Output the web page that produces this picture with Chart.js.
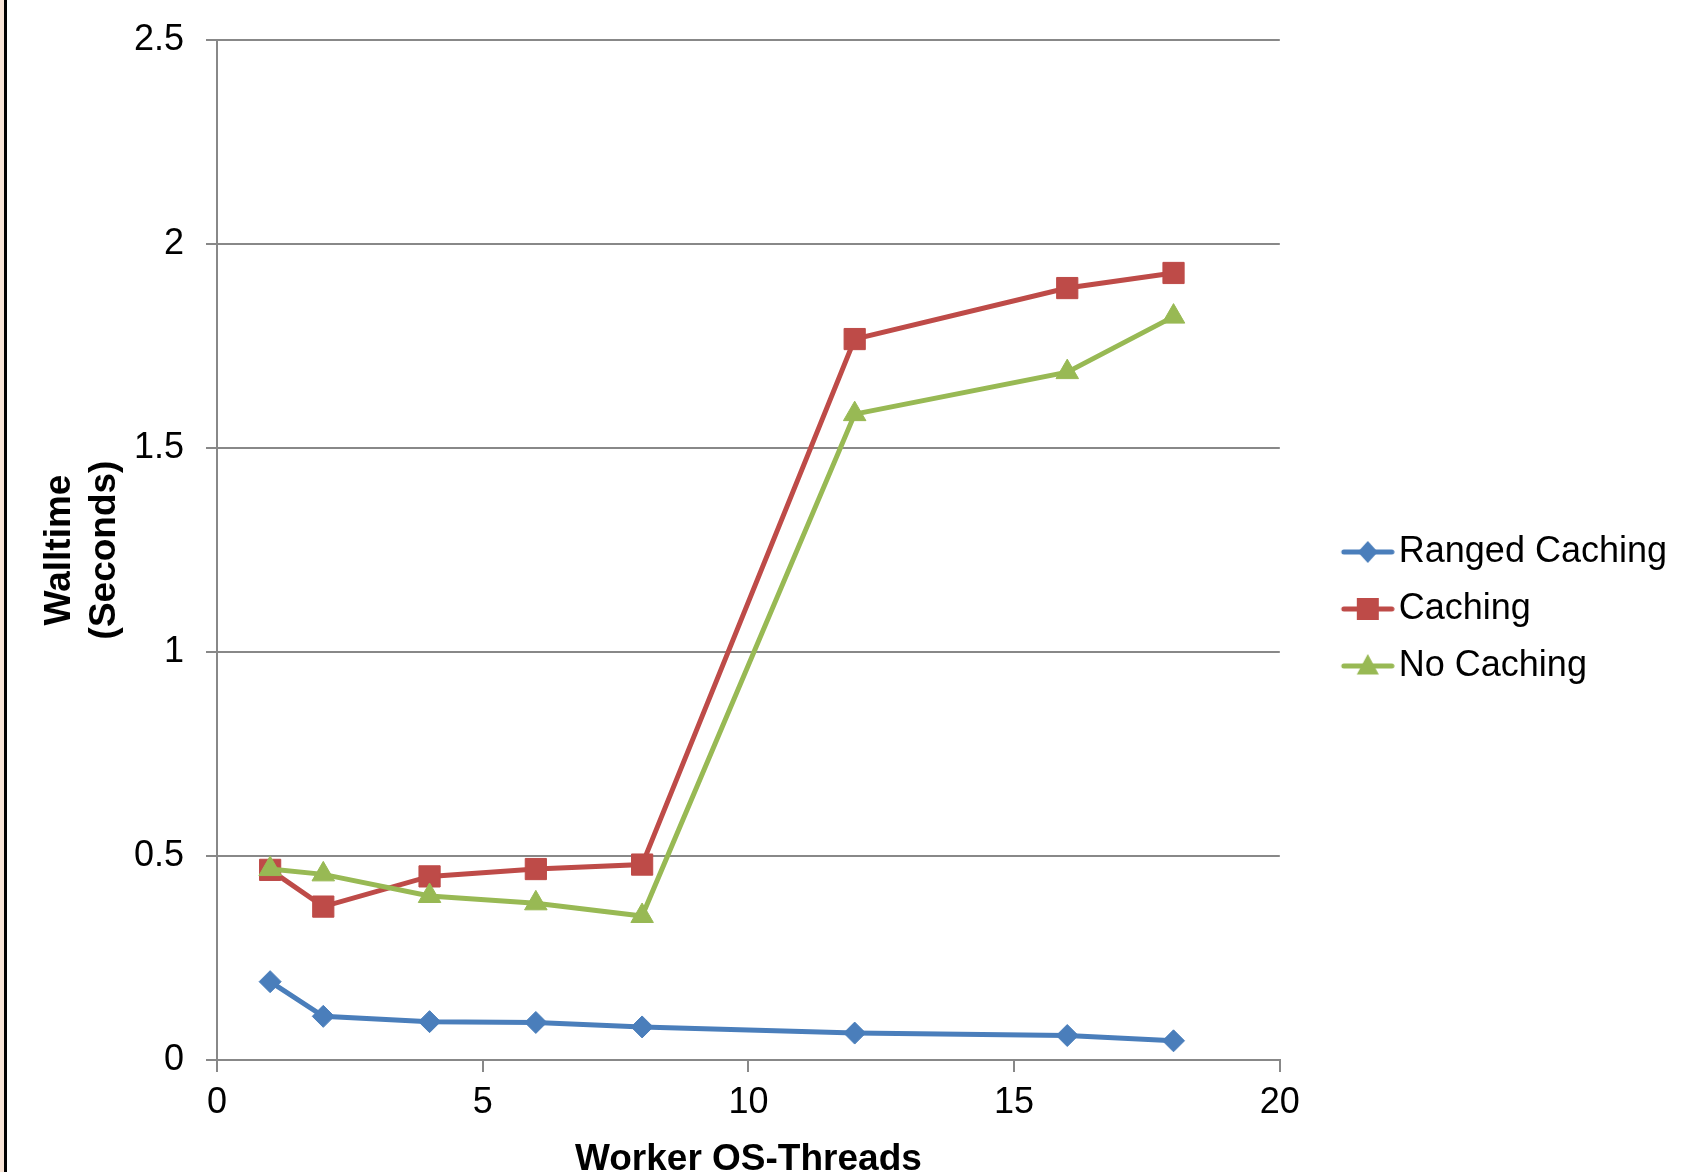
<!DOCTYPE html>
<html>
<head>
<meta charset="utf-8">
<script src="https://cdn.jsdelivr.net/npm/chart.js@4"></script>
<style>
  html, body { margin: 0; padding: 0; background: #fff; }
  #wrap { position: relative; width: 1686px; height: 1172px; overflow: hidden; }
  #edge1 { position: absolute; left: 0; top: 0; width: 4px; height: 100%; background: #f8e4d6; }
  #edge2 { position: absolute; left: 4px; top: 0; width: 3px; height: 100%; background: #000; }
</style>
</head>
<body>
<div id="wrap">
  <canvas id="walltimeChart" width="1686" height="1172"></canvas>
  <div id="edge1"></div>
  <div id="edge2"></div>
</div>
<script>
// datos
const threads = [1, 2, 4, 6, 8, 12, 16, 18];
const rangedCaching = [0.192, 0.107, 0.094, 0.092, 0.081, 0.066, 0.060, 0.047];
const caching = [0.466, 0.376, 0.450, 0.468, 0.479, 1.767, 1.892, 1.929];
const noCaching = [0.468, 0.455, 0.402, 0.384, 0.353, 1.583, 1.686, 1.822];
const seriesNames = ['Ranged Caching', 'Caching', 'No Caching'];
const xTicks = [0, 5, 10, 15, 20];
const yTicks = [0, 0.5, 1, 1.5, 2, 2.5];
const yTickLabels = ['0', '0.5', '1', '1.5', '2', '2.5'];

const blue = '#4a7ebb';
const red = '#be4b48';
const green = '#98b954';

function toPoints(values) {
  return values.map((v, i) => ({ x: threads[i], y: v }));
}

// icono de leyenda: linea + marcador
function legendIcon(color, shape) {
  const c = document.createElement('canvas');
  c.width = 108;
  c.height = 32;
  const g = c.getContext('2d');
  g.strokeStyle = color;
  g.fillStyle = color;
  g.lineWidth = 5;
  g.lineCap = 'round';
  g.beginPath();
  g.moveTo(57, 16);
  g.lineTo(105, 16);
  g.stroke();
  const cx = 81, cy = 16;
  g.beginPath();
  if (shape === 'diamond') {
    g.moveTo(cx, cy - 11); g.lineTo(cx + 10, cy); g.lineTo(cx, cy + 11); g.lineTo(cx - 10, cy);
  } else if (shape === 'square') {
    g.rect(cx - 11, cy - 11, 22, 22);
  } else {
    g.moveTo(cx, cy - 12); g.lineTo(cx + 11, cy + 8.5); g.lineTo(cx - 11, cy + 8.5);
  }
  g.closePath();
  g.fill();
  return c;
}
const legendIcons = [legendIcon(blue, 'diamond'), legendIcon(red, 'square'), legendIcon(green, 'triangle')];

// baja un poco la leyenda
const legendShift = {
  id: 'legendShift',
  afterLayout(chart) {
    chart.legend.top += 3;
    chart.legend.bottom += 3;
  }
};

const font = 'Liberation Sans, Arial, sans-serif';

const ctx = document.getElementById('walltimeChart').getContext('2d');
new Chart(ctx, {
  type: 'line',
  plugins: [legendShift],
  data: {
    datasets: [{
      label: seriesNames[0],
      data: toPoints(rangedCaching),
      borderColor: blue,
      backgroundColor: blue,
      borderWidth: 5,
      pointStyle: 'rectRot',
      pointRadius: 11,
      pointBorderWidth: 1,
      order: 2
    }, {
      label: seriesNames[1],
      data: toPoints(caching),
      borderColor: red,
      backgroundColor: red,
      borderWidth: 5,
      pointStyle: 'rect',
      pointRadius: 15,
      pointBorderWidth: 1,
      order: 1
    }, {
      label: seriesNames[2],
      data: toPoints(noCaching),
      borderColor: green,
      backgroundColor: green,
      borderWidth: 5,
      pointStyle: 'triangle',
      pointRadius: 13,
      pointBorderWidth: 1,
      order: 0
    }]
  },
  options: {
    responsive: false,
    animation: false,
    devicePixelRatio: 1,
    layout: { padding: { top: 40, right: 9, bottom: 0, left: 0 } },
    elements: { line: { tension: 0 } },
    plugins: {
      title: { display: false },
      tooltip: { enabled: false },
      legend: {
        position: 'right',
        align: 'center',
        labels: {
          usePointStyle: true,
          pointStyleWidth: 80,
          padding: 21,
          color: '#000',
          font: { family: font, size: 36 },
          sort: (a, b) => a.datasetIndex - b.datasetIndex,
          generateLabels: chart => Chart.defaults.plugins.legend.labels.generateLabels(chart)
            .map(l => Object.assign(l, { pointStyle: legendIcons[l.datasetIndex] }))
        }
      }
    },
    scales: {
      x: {
        type: 'linear',
        min: 0,
        max: 20,
        afterFit: s => { s.height = 112; },
        afterBuildTicks: s => { s.ticks = xTicks.map(v => ({ value: v })); },
        ticks: { color: '#000', padding: 9, font: { family: font, size: 36 } },
        grid: { drawOnChartArea: false, drawTicks: true, tickLength: 12, color: '#888888', lineWidth: 2 },
        border: { color: '#888888', width: 2 },
        title: {
          display: true,
          text: 'Worker OS-Threads',
          color: '#000',
          padding: { top: 0, bottom: -10 },
          font: { family: font, size: 37, weight: 'bold' }
        }
      },
      y: {
        min: 0,
        max: 2.5,
        afterFit: s => { s.width = 217; s.paddingTop = 0; s.paddingBottom = 0; },
        afterBuildTicks: s => { s.ticks = yTicks.map(v => ({ value: v })); },
        ticks: {
          color: '#000',
          padding: 22,
          font: { family: font, size: 36 },
          callback: (value, i) => yTickLabels[i]
        },
        grid: { drawTicks: true, tickLength: 11, color: '#888888', lineWidth: 2 },
        border: { color: '#888888', width: 2 },
        title: {
          display: true,
          text: ['Walltime', '(Seconds)'],
          color: '#000',
          padding: { top: 38, bottom: 0 },
          font: { family: font, size: 37, weight: 'bold' }
        }
      }
    }
  }
});
</script>
</body>
</html>
